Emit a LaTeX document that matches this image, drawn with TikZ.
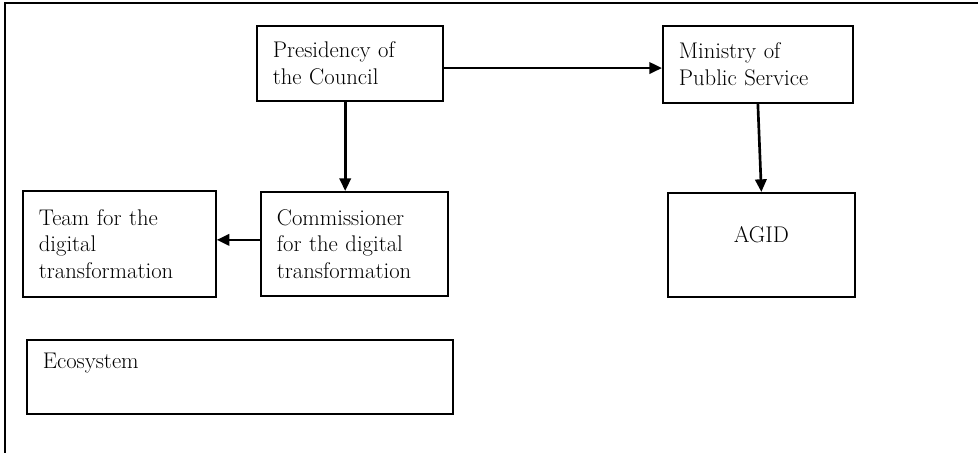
\documentclass[tikz,border=0pt]{standalone}
\usetikzlibrary{arrows.meta}
\begin{document}
\begin{tikzpicture}[x=0.75pt,y=-0.75pt,>={Triangle[length=9.5pt,width=8.5pt]},
    box/.style={draw,line width=1.3pt,anchor=north west,inner xsep=12pt,align=left,font=\fontsize{17}{20}\selectfont},
    arr/.style={->,line width=2pt}]
    \useasboundingbox (0,0) rectangle (978,453);
    \draw[line width=1.1pt](978,3)--(5,3)--(5,453);
    \node[box,text width=115.5pt,minimum height=56.25pt](pres) at (256,25){Presidency of\\the Council};
    \node[box,text width=118.5pt,minimum height=57.75pt](min) at (662,25){Ministry of\\Public Service};
    \node[box,text width=116.25pt,minimum height=78pt](comm) at (260,191){Commissioner\\for the digital\\transformation};
    \node[box,text width=120.75pt,minimum height=79.5pt](team) at (22,190){Team for the\\digital\\transformation};
    \node[box,align=center,text width=116.25pt,minimum height=78pt,text height=11pt,text depth=14.5pt](agid) at (667,192){AGID};
    \node[box,text width=295.5pt,minimum height=55.5pt,text height=11pt,text depth=24pt](eco) at (26,339){Ecosystem};
    \draw[arr]([yshift=-3.5pt]pres.east)--([yshift=-3.5pt]pres.east-|min.west);
    \draw[arr]([xshift=-3.5pt]pres.south)--([xshift=-3.5pt]pres.south|-comm.north);
    \draw[arr](min.south)--(agid.north);
    \draw[arr]([yshift=3pt]comm.west)--([yshift=3pt]comm.west-|team.east);
\end{tikzpicture}
\end{document}
